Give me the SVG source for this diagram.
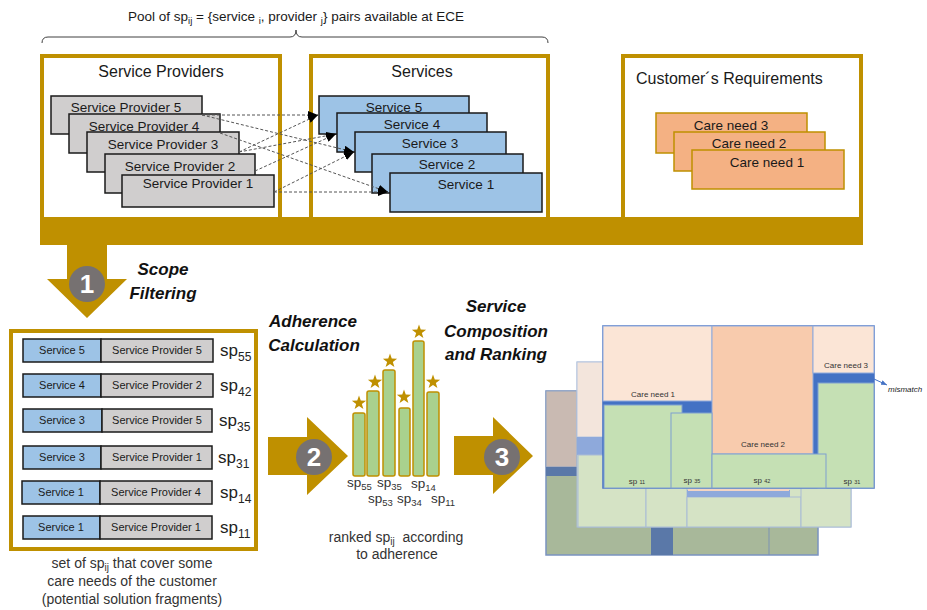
<svg xmlns="http://www.w3.org/2000/svg" width="927" height="610" viewBox="0 0 927 610">
<style>
text{font-family:"Liberation Sans",Arial,sans-serif;fill:#1a1a1a}
.gold{fill:none;stroke:#bf9000;stroke-width:4}
.sp{fill:#d0cece;stroke:#1a1a1a;stroke-width:1.5}
.sv{fill:#9dc3e6;stroke:#1a1a1a;stroke-width:1.5}
.cn{fill:#f4b183;stroke:#bf9000;stroke-width:1.5}
.t13{font-size:13.5px;text-anchor:middle}
.t11{font-size:11px;text-anchor:middle}
.ttl{font-size:16px}
.bi{font-size:17px;font-weight:bold;font-style:italic;text-anchor:middle;fill:#111}
.cap{font-size:14px;text-anchor:middle;fill:#333}
.lbl{font-size:17px;fill:#222}
.bl{font-size:13.5px;fill:#333}
.dash{fill:none;stroke:#555;stroke-width:1;stroke-dasharray:3 2;marker-end:url(#ah)}
.bar{fill:#a9d18e;stroke:#bf9000;stroke-width:1.5}
.star{fill:#bf9000}
.num{fill:#767171}
.numt{font-size:26px;font-weight:bold;fill:#fff;text-anchor:middle}
.fg{fill:#c5e0b4;stroke:#7f9fcf;stroke-width:1}
.mg{fill:#d5e3c5;stroke:#a9bcd5;stroke-width:1}
.ct{font-size:8px;text-anchor:middle;fill:#333}
</style>
<defs>
<marker id="ah" markerWidth="10" markerHeight="8" refX="10" refY="4" orient="auto" markerUnits="userSpaceOnUse"><path d="M0,0 L10,4 L0,8 z" fill="#000"/></marker>
<marker id="bh" markerWidth="6" markerHeight="5" refX="6" refY="2.5" orient="auto" markerUnits="userSpaceOnUse"><path d="M0,0 L6,2.5 L0,5 z" fill="#4472c4"/></marker>
<path id="star" d="M0,-7.5 L1.76,-2.43 L7.13,-2.32 L2.85,0.93 L4.41,6.07 L0,3 L-4.41,6.07 L-2.85,0.93 L-7.13,-2.32 L-1.76,-2.43 z"/>
</defs>
<rect width="927" height="610" fill="#fff"/>

<g id="pool">
<text x="296" y="21" text-anchor="middle" font-size="13.5">Pool of  sp<tspan dy="3" font-size="9.5">ij</tspan><tspan dy="-3"> = {service </tspan><tspan dy="3" font-size="9.5">i</tspan><tspan dy="-3">, provider </tspan><tspan dy="3" font-size="9.5">j</tspan><tspan dy="-3">} pairs available at ECE</tspan></text>
<path d="M42,43 Q42,37 48,37 L290,37 Q296,37 296,30 Q296,37 302,37 L542,37 Q548,37 548,43" fill="none" stroke="#404040" stroke-width="1"/>
</g>

<g id="goldbar">
<rect x="40" y="217" width="823" height="28" fill="#bf9000"/>
<polygon points="67,244 107,244 107,279 127,279 87,318 47,279 67,279" fill="#bf9000"/>
</g>

<g id="service-providers">
<rect class="gold" x="42" y="56" width="238" height="164"/>
<text class="ttl" x="161" y="77" text-anchor="middle">Service Providers</text>
<rect class="sp" x="51" y="96" width="151" height="38"/><text class="t13" x="126" y="112">Service Provider 5</text>
<rect class="sp" x="69" y="114" width="151" height="39"/><text class="t13" x="144" y="131">Service Provider 4</text>
<rect class="sp" x="87" y="132" width="152" height="40"/><text class="t13" x="163" y="149">Service Provider 3</text>
<rect class="sp" x="105" y="154" width="150" height="39"/><text class="t13" x="180" y="171">Service Provider 2</text>
<rect class="sp" x="122" y="175" width="152" height="32"/><text class="t13" x="198" y="188">Service Provider 1</text>
</g>

<g id="services">
<rect class="gold" x="311" y="56" width="237" height="164"/>
<text class="ttl" x="422" y="77" text-anchor="middle">Services</text>
<rect class="sv" x="319" y="96" width="150" height="38"/><text class="t13" x="394" y="112">Service 5</text>
<rect class="sv" x="337" y="113" width="150" height="39"/><text class="t13" x="412" y="129">Service 4</text>
<rect class="sv" x="355" y="132" width="151" height="40"/><text class="t13" x="430" y="148">Service 3</text>
<rect class="sv" x="372" y="154" width="151" height="39"/><text class="t13" x="447" y="169">Service 2</text>
<rect class="sv" x="390" y="173" width="152" height="39"/><text class="t13" x="466" y="189">Service 1</text>
</g>

<g id="customer-requirements">
<rect class="gold" x="623" y="56" width="238" height="164"/>
<text class="ttl" x="636" y="84">Customer´s Requirements</text>
<rect class="cn" x="656" y="113" width="151" height="40"/><text class="t13" x="731" y="130">Care need 3</text>
<rect class="cn" x="674" y="132" width="151" height="39"/><text class="t13" x="749" y="148">Care need 2</text>
<rect class="cn" x="692" y="150" width="152" height="39"/><text class="t13" x="767" y="167">Care need 1</text>
</g>

<g id="connectors">
<line class="dash" x1="202" y1="115" x2="318" y2="115"/>
<line class="dash" x1="202" y1="115" x2="354" y2="152"/>
<line class="dash" x1="220" y1="133" x2="388" y2="192"/>
<line class="dash" x1="239" y1="152" x2="318" y2="115"/>
<line class="dash" x1="239" y1="152" x2="336" y2="134"/>
<line class="dash" x1="255" y1="171" x2="336" y2="134"/>
<line class="dash" x1="274" y1="192" x2="354" y2="152"/>
<line class="dash" x1="274" y1="192" x2="388" y2="192"/>
</g>

<g id="step1">
<circle class="num" cx="87" cy="284" r="18"/>
<text class="numt" x="87" y="293">1</text>
<text class="bi" x="163" y="275">Scope</text>
<text class="bi" x="163" y="299">Filtering</text>
</g>

<g id="filtered-set">
<rect class="gold" x="11" y="331" width="245" height="218"/>
<rect class="sv" x="23" y="339" width="78" height="23"/><rect class="sp" x="101" y="339" width="112" height="23"/>
<text class="t11" x="62" y="354">Service 5</text><text class="t11" x="157" y="354">Service Provider 5</text>
<text class="lbl" x="220" y="356">sp<tspan font-size="12" dy="5">55</tspan></text>
<rect class="sv" x="23" y="374" width="78" height="23"/><rect class="sp" x="101" y="374" width="112" height="23"/>
<text class="t11" x="62" y="389">Service 4</text><text class="t11" x="157" y="389">Service Provider 2</text>
<text class="lbl" x="220" y="391">sp<tspan font-size="12" dy="5">42</tspan></text>
<rect class="sv" x="23" y="409" width="79" height="23"/><rect class="sp" x="102" y="409" width="110" height="23"/>
<text class="t11" x="62" y="424">Service 3</text><text class="t11" x="157" y="424">Service Provider 5</text>
<text class="lbl" x="219" y="426">sp<tspan font-size="12" dy="5">35</tspan></text>
<rect class="sv" x="23" y="446" width="78" height="23"/><rect class="sp" x="101" y="446" width="111" height="23"/>
<text class="t11" x="62" y="461">Service 3</text><text class="t11" x="157" y="461">Service Provider 1</text>
<text class="lbl" x="218" y="463">sp<tspan font-size="12" dy="5">31</tspan></text>
<rect class="sv" x="22" y="481" width="78" height="23"/><rect class="sp" x="100" y="481" width="112" height="23"/>
<text class="t11" x="61" y="496">Service 1</text><text class="t11" x="156" y="496">Service Provider 4</text>
<text class="lbl" x="220" y="498">sp<tspan font-size="12" dy="5">14</tspan></text>
<rect class="sv" x="23" y="516" width="77" height="23"/><rect class="sp" x="100" y="516" width="112" height="23"/>
<text class="t11" x="61" y="531">Service 1</text><text class="t11" x="156" y="531">Service Provider 1</text>
<text class="lbl" x="220" y="533">sp<tspan font-size="12" dy="5">11</tspan></text>
<text class="cap" x="132" y="568">set of sp<tspan font-size="10" dy="3">ij</tspan><tspan dy="-3"> that cover some</tspan></text>
<text class="cap" x="132" y="586">care needs of the customer</text>
<text class="cap" x="132" y="604">(potential solution fragments)</text>
</g>

<g id="step2">
<polygon points="268,437 307,437 307,417 348,456 307,495 307,475 268,475" fill="#bf9000"/>
<circle class="num" cx="314" cy="457" r="18"/>
<text class="numt" x="314" y="466">2</text>
<text class="bi" x="313" y="327">Adherence</text>
<text class="bi" x="314" y="351">Calculation</text>
</g>

<g id="ranking-bars">
<rect class="bar" x="353" y="413" width="12" height="63" rx="2"/>
<rect class="bar" x="367" y="391" width="12" height="85" rx="2"/>
<rect class="bar" x="383" y="370" width="12" height="106" rx="2"/>
<rect class="bar" x="399" y="408" width="11" height="68" rx="2"/>
<rect class="bar" x="413" y="341" width="11" height="135" rx="2"/>
<rect class="bar" x="427" y="392" width="12" height="84" rx="2"/>
<use href="#star" class="star" x="359" y="403"/>
<use href="#star" class="star" x="375" y="382"/>
<use href="#star" class="star" x="390" y="361"/>
<use href="#star" class="star" x="404" y="397"/>
<use href="#star" class="star" x="419" y="332"/>
<use href="#star" class="star" x="433" y="382"/>
<text class="bl" x="347" y="487">sp<tspan font-size="9.5" dy="2.5">55</tspan></text>
<text class="bl" x="377" y="487">sp<tspan font-size="9.5" dy="2.5">35</tspan></text>
<text class="bl" x="411" y="488">sp<tspan font-size="9.5" dy="2.5">14</tspan></text>
<text class="bl" x="368" y="503">sp<tspan font-size="9.5" dy="2.5">53</tspan></text>
<text class="bl" x="397" y="503">sp<tspan font-size="9.5" dy="2.5">34</tspan></text>
<text class="bl" x="431" y="503">sp<tspan font-size="9.5" dy="2.5">11</tspan></text>
<text class="cap" x="396" y="542">ranked sp<tspan font-size="10" dy="3">ij</tspan><tspan dy="-3"> &#160;according</tspan></text>
<text class="cap" x="397" y="559">to adherence</text>
</g>

<g id="step3">
<polygon points="454,436 493,436 493,417 533,456 493,494 493,475 454,475" fill="#bf9000"/>
<circle class="num" cx="502" cy="457" r="18"/>
<text class="numt" x="502" y="466">3</text>
<text class="bi" x="496" y="312">Service</text>
<text class="bi" x="496" y="337">Composition</text>
<text class="bi" x="496" y="360">and Ranking</text>
</g>

<g id="composition">
<rect x="546" y="391" width="272" height="164" fill="#a8b89a" stroke="#7a93c0" stroke-width="1.5"/>
<rect x="546" y="391" width="31" height="76" fill="#c9bab2" stroke="#8fa3c4" stroke-width="1"/>
<rect x="546" y="467" width="31" height="9" fill="#5a78a8"/>
<rect x="651" y="527" width="22" height="28" fill="#5a78a8"/>
<line x1="769" y1="527" x2="769" y2="555" stroke="#7d93b3"/>
<rect x="577" y="362" width="274" height="165" class="mg"/>
<rect x="577" y="362" width="26" height="75" fill="#f3e5dc" stroke="#b5c6e0"/>
<rect x="577" y="437" width="26" height="18" fill="#8ea9db"/>
<rect x="578" y="455" width="68" height="72" class="mg"/>
<rect x="646" y="455" width="41" height="72" class="mg"/>
<rect x="687" y="497" width="114" height="30" class="mg"/>
<rect x="801" y="455" width="50" height="72" class="mg"/>
<rect x="687" y="490" width="103" height="7" fill="#8ea9db"/>
<rect x="688" y="488" width="101" height="3" fill="#f3d5c3"/>
<rect x="603" y="326" width="271" height="162" fill="#4472c4" stroke="#4472c4" stroke-width="1.5"/>
<rect x="603" y="326" width="109" height="75" fill="#fbe5d6" stroke="#8faadc"/>
<rect x="712" y="326" width="101" height="128" fill="#f8cbad" stroke="#8faadc"/>
<rect x="813" y="326" width="61" height="47" fill="#fbe5d6" stroke="#8faadc"/>
<rect x="604" y="405" width="78" height="83" class="fg"/>
<rect x="671" y="413" width="41" height="75" class="fg"/>
<rect x="818" y="383" width="56" height="105" class="fg"/>
<rect x="712" y="454" width="114" height="34" class="fg"/>
<text class="ct" x="653" y="397">Care need 1</text>
<text class="ct" x="763" y="447">Care need 2</text>
<text class="ct" x="846" y="368">Care need 3</text>
<text class="ct" x="637" y="484">sp <tspan font-size="5.5">11</tspan></text>
<text class="ct" x="692" y="483">sp <tspan font-size="5.5">35</tspan></text>
<text class="ct" x="762" y="483">sp <tspan font-size="5.5">42</tspan></text>
<text class="ct" x="852" y="484">sp <tspan font-size="5.5">31</tspan></text>
<line x1="874" y1="379" x2="887" y2="385" stroke="#4472c4" stroke-width="1" marker-end="url(#bh)"/>
<text x="888" y="392" font-size="8" font-style="italic" fill="#333">mismatch</text>
</g>
</svg>
